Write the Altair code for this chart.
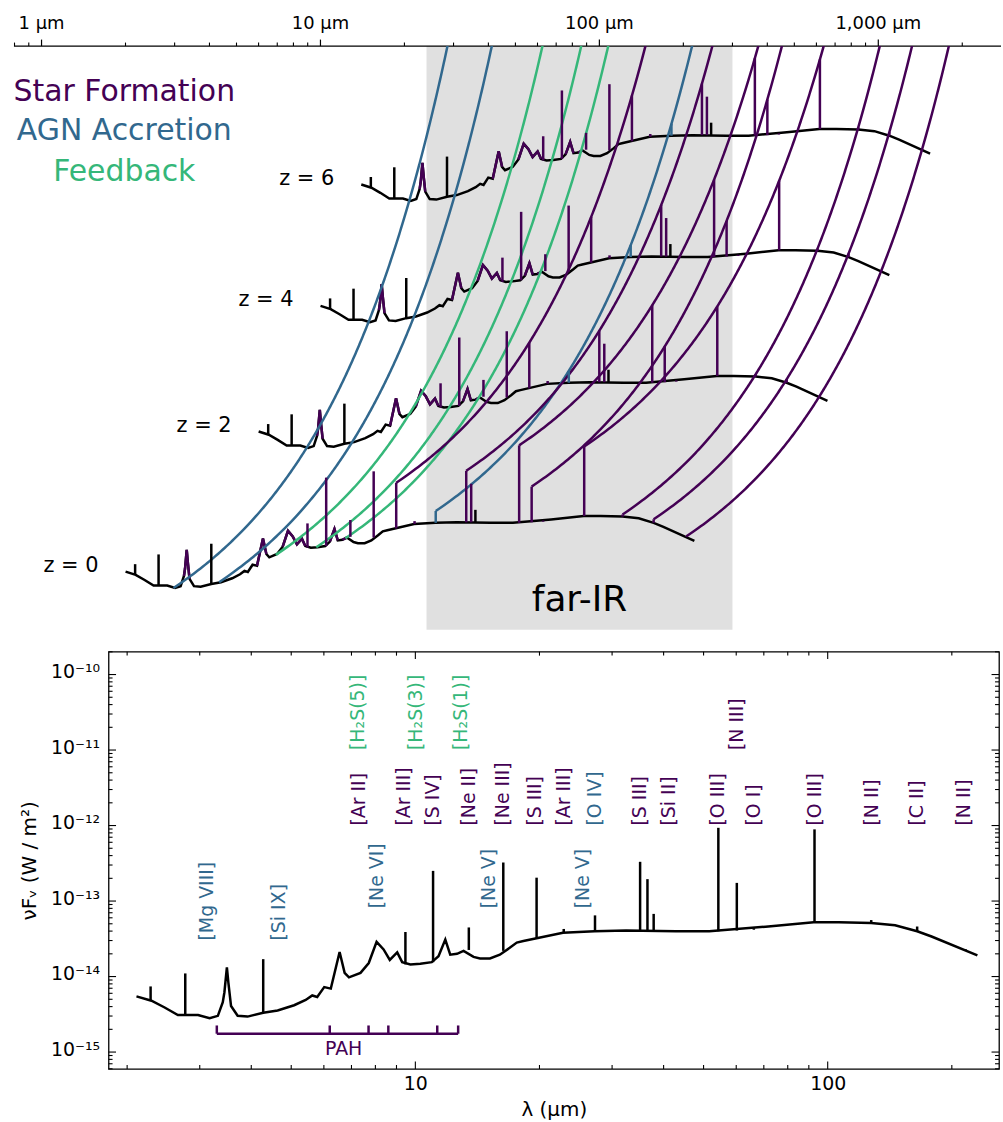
import altair as alt
import numpy as np
import pandas as pd

FONT = "DejaVu Sans"
C_SF, C_AGN, C_FB = "#440154", "#31688e", "#35b779"
GROUP_DOMAIN = ["none", "sf", "agn", "fb"]
GROUP_RANGE = ["black", C_SF, C_AGN, C_FB]

# ---------------- data ----------------
# Template SED as drawn in the lower panel (template's own observed wavelengths, um ; W/m^2)
sed_wave = [2.107, 2.291, 2.466, 2.655, 2.972, 3.170, 3.319, 3.412, 3.443, 3.491, 3.52, 3.573,
            3.707, 3.917, 4.276, 4.634, 5.082, 5.420, 5.623, 5.781, 6.012, 6.237, 6.551, 6.737,
            6.902, 7.362, 7.709, 8.054, 8.375, 8.670, 9.036, 9.290, 9.727, 10.28, 10.96, 11.38,
            11.82, 12.15, 12.62, 13.09, 13.84, 14.35, 15.17, 16.03, 16.94, 17.62, 18.28, 22.80,
            27.2, 32.43, 42.85, 51.6, 70.7, 92.5, 106.4, 127.5, 145.7, 164.8, 178.6, 230.7]
sed_flux = [5.46e-15, 4.79e-15, 3.89e-15, 3.09e-15, 3.09e-15, 2.80e-15, 3.02e-15, 4.57e-15, 6.2e-15,
            1.32e-14, 8.3e-15, 4.07e-15, 3.02e-15, 2.95e-15, 3.31e-15, 3.55e-15, 4.17e-15, 4.90e-15,
            5.62e-15, 5.37e-15, 7.24e-15, 6.92e-15, 2.11e-14, 1.12e-14, 9.77e-15, 1.12e-14, 1.51e-14,
            2.88e-14, 2.29e-14, 1.66e-14, 2.09e-14, 1.55e-14, 1.45e-14, 1.48e-14, 1.55e-14, 1.86e-14,
            3.09e-14, 1.95e-14, 2.00e-14, 2.19e-14, 1.82e-14, 1.74e-14, 1.74e-14, 1.95e-14, 2.40e-14,
            2.82e-14, 2.95e-14, 3.80e-14, 3.98e-14, 4.07e-14, 3.98e-14, 3.98e-14, 4.57e-14, 5.25e-14,
            5.25e-14, 5.13e-14, 4.79e-14, 3.98e-14, 3.39e-14, 1.91e-14]

# Emission lines of the template (observed wavelength, continuum under line, peak)
line_wave = [2.28, 2.767, 3.13, 4.276, 4.56, 7.28, 9.46, 10.17, 11.04, 12.93, 13.48, 16.34, 19.68,
             22.9, 27.27, 35.08, 36.55, 37.84, 54.3, 60.2, 66.2, 92.9, 127.5, 164.8, 216.0]
line_base = [4.79e-15, 3.09e-15, 2.80e-15, 3.31e-15, 3.55e-15, 1.08e-14, 1.45e-14, 1.47e-14, 1.55e-14,
             2.12e-14, 2.25e-14, 2.19e-14, 3.16e-14, 3.80e-14, 3.98e-14, 4.07e-14, 4.07e-14, 4.07e-14,
             3.98e-14, 4.07e-14, 4.17e-14, 5.25e-14, 5.13e-14, 3.98e-14, 2.24e-14]
line_peak = [7.4e-15, 1.10e-14, 2.80e-15, 1.70e-14, 3.55e-15, 1.08e-14, 3.89e-14, 1.47e-14, 2.51e-13,
             2.12e-14, 4.47e-14, 3.24e-13, 2.04e-13, 4.27e-14, 6.46e-14, 3.31e-13, 1.95e-13, 6.76e-14,
             9.33e-13, 1.74e-13, 4.37e-14, 8.9e-13, 5.6e-14, 4.6e-14, 2.3e-14]
line_group = ["none", "none", "agn", "none", "agn", "fb", "sf", "fb", "sf", "fb", "sf", "sf", "sf",
              "sf", "agn", "sf", "sf", "none", "sf", "sf", "sf", "sf", "sf", "sf", "sf"]
line_track = [0, 0, 1, 0, 1, 1, 0, 1, 0, 1, 0, 0, 1, 0, 1, 1, 0, 0, 1, 1, 0, 1, 1, 1, 1]

# Line labels of the lower panel (rest wavelength, flux where the label starts)
label_text = ["[Mg VIII]", "[Si IX]", "[Ne VI]", "[Ne V]", "[Ne V]", "[O IV]",
              "[H\u2082S(5)]", "[H\u2082S(3)]", "[H\u2082S(1)]",
              "[Ar II]", "[Ar III]", "[S IV]", "[Ne II]", "[Ne III]", "[S III]", "[Ar III]",
              "[S III]", "[Si II]", "[O III]", "[N III]", "[O I]", "[O III]", "[N II]", "[C II]", "[N II]"]
label_wave = [2.975, 4.44, 7.66, 14.36, 24.3, 25.9,
              6.91, 9.56, 12.28,
              6.96, 8.95, 10.5, 12.85, 15.5, 18.6, 21.8,
              33.4, 39.2, 51.5, 57.4, 63.0, 88.5, 121.6, 156.7, 204.0]
label_flux = [3e-14, 3e-14, 8e-14, 8e-14, 8e-14, 1e-12,
              1e-11, 1e-11, 1e-11,
              1e-12, 1e-12, 1e-12, 1e-12, 1e-12, 1e-12, 1e-12,
              1e-12, 1e-12, 1e-12, 1e-11, 1e-12, 1e-12, 1e-12, 1e-12, 1e-12]
label_group = ["agn"] * 6 + ["fb"] * 3 + ["sf"] * 16

PAH_TICKS = [3.3, 6.2, 7.7, 8.6, 11.3, 12.7]
PAH_WINDOWS = [(3.22, 3.40), (5.9, 6.45), (7.3, 8.85), (10.8, 11.6), (11.9, 12.5)]
PAH_BAR_FLUX, PAH_TICK_FLUX, PAH_TEXT_FLUX, PAH_TEXT_WAVE = 1.75e-15, 2.25e-15, 1.1e-15, 6.7

REDSHIFTS = [0, 2, 4, 6]
TEMPLATE_Z = 0.053          # the template in the lower panel sits at its own small redshift
FIR_RANGE = (24, 300)
TOP_TICKS = [1, 10, 100, 1000]
TOP_TICK_LABELS = ["1 \u03bcm", "10 \u03bcm", "100 \u03bcm", "1,000 \u03bcm"]
TOP_AXIS_RANGE = (0.7963, 2754)   # extent of the upper wavelength axis line
LEGEND_TEXT = ["Star Formation", "AGN Accretion", "Feedback"]
LEGEND_COLOR = [C_SF, C_AGN, C_FB]
LEGEND_WAVE = 1.98
LEGEND_V = [-5.78, -6.48, -7.19]
FIR_TEXT_V = -14.76

# ---------------- derived tables ----------------
def zshift(z):
    return z + np.log10(1 + z)

TOP_V = (-15.29, -4.97)
rest_factor = 1 + TEMPLATE_Z
sed_rows, pah_rows, spike_rows, zlab_rows = [], [], [], []
for z in REDSHIFTS:
    for i, (w, f) in enumerate(zip(sed_wave, sed_flux)):
        rest = w / rest_factor
        lam, v = rest * (1 + z), np.log10(f) + zshift(z)
        sed_rows.append({"z": z, "i": i, "lam": lam, "v": v})
        for k, (lo, hi) in enumerate(PAH_WINDOWS):
            if lo <= rest <= hi:
                pah_rows.append({"seg": f"{z}_{k}", "i": i, "lam": lam, "v": v})
    for j, (w, b, p, g) in enumerate(zip(line_wave, line_base, line_peak, line_group)):
        if p > b:
            spike_rows.append({"lam": w / rest_factor * (1 + z), "v0": np.log10(b) + zshift(z),
                               "v1": np.log10(p) + zshift(z), "group": g})
    zlab_rows.append({"lam": sed_wave[0] / rest_factor * (1 + z) / 1.25,
                      "v": np.log10(sed_flux[0]) + zshift(z) + 0.1, "text": f"z = {z}"})

zgrid = np.linspace(0, 10, 401)
track_rows = []
for j, (w, p, g, t) in enumerate(zip(line_wave, line_peak, line_group, line_track)):
    if t:
        for k, z in enumerate(zgrid):
            v = np.log10(p) + zshift(z)
            track_rows.append({"line": j, "k": k, "lam": w / rest_factor * (1 + z), "v": v, "group": g})
            if v > TOP_V[1]:
                break

sed_top = pd.DataFrame(sed_rows)
pah_top = pd.DataFrame(pah_rows)
spk_top = pd.DataFrame(spike_rows)
trk_top = pd.DataFrame(track_rows)
zlab_top = pd.DataFrame(zlab_rows)

color_scale = alt.Scale(domain=GROUP_DOMAIN, range=GROUP_RANGE)
gcolor = alt.Color("group:N", scale=color_scale, legend=None)

# ---------------- upper panel ----------------
W1, H1 = 896, 586
xs1 = alt.Scale(type="log", domain=[1.739, 2754], nice=False)
ys1 = alt.Scale(domain=list(TOP_V), nice=False, zero=False)
X1 = lambda f: alt.X(f, scale=xs1, axis=None)
Y1 = lambda f: alt.Y(f, scale=ys1, axis=None)

fir = alt.Chart(pd.DataFrame({"lo": [FIR_RANGE[0]], "hi": [FIR_RANGE[1]]})).mark_rect(
    color="#e0e0e0").encode(x=X1("lo:Q"), x2="hi:Q", y=alt.value(0), y2=alt.value(H1))

axis_line = alt.Chart(pd.DataFrame({"a": [TOP_AXIS_RANGE[0]], "b": [TOP_AXIS_RANGE[1]]})).mark_rule(
    color="black", strokeWidth=1.2).encode(x=X1("a:Q"), x2="b:Q", y=alt.value(0))
minor1 = [k * 10.0 ** d for d in range(-1, 4) for k in range(2, 10)
          if TOP_AXIS_RANGE[0] <= k * 10.0 ** d <= TOP_AXIS_RANGE[1]]
tmin = alt.Chart(pd.DataFrame({"t": minor1})).mark_rule(color="black", strokeWidth=1.1).encode(
    x=X1("t:Q"), y=alt.value(0), y2=alt.value(-3.5))
tmaj = alt.Chart(pd.DataFrame({"t": TOP_TICKS})).mark_rule(color="black", strokeWidth=1.2).encode(
    x=X1("t:Q"), y=alt.value(0), y2=alt.value(-6.5))
tlab = alt.Chart(pd.DataFrame({"t": TOP_TICKS, "text": TOP_TICK_LABELS})).mark_text(
    baseline="bottom", align="center", font=FONT, fontSize=18, color="black").encode(
    x=X1("t:Q"), y=alt.value(-13), text="text:N")

sed_l = alt.Chart(sed_top).mark_line(color="black", strokeWidth=2.5).encode(
    x=X1("lam:Q"), y=Y1("v:Q"), detail="z:N", order="i:Q")
pah_l = alt.Chart(pah_top).mark_line(color=C_SF, strokeWidth=2.5).encode(
    x=X1("lam:Q"), y=Y1("v:Q"), detail="seg:N", order="i:Q")
trk_l = alt.Chart(trk_top).mark_line(strokeWidth=2.5, clip=True).encode(
    x=X1("lam:Q"), y=Y1("v:Q"), detail="line:N", order="k:Q", color=gcolor)
spk_l = alt.Chart(spk_top).mark_rule(strokeWidth=2.5).encode(
    x=X1("lam:Q"), y=Y1("v0:Q"), y2="v1:Q", color=gcolor)
zlab = alt.Chart(zlab_top).mark_text(align="right", baseline="middle", font=FONT, fontSize=21,
                                     color="black").encode(x=X1("lam:Q"), y=Y1("v:Q"), text="text:N")
leg = alt.Chart(pd.DataFrame({"lam": [LEGEND_WAVE] * 3, "v": LEGEND_V, "text": LEGEND_TEXT,
                              "c": LEGEND_COLOR})).mark_text(
    align="center", baseline="middle", font=FONT, fontSize=30).encode(
    x=X1("lam:Q"), y=Y1("v:Q"), text="text:N", color=alt.Color("c:N", scale=None))
firtxt = alt.Chart(pd.DataFrame({"lam": [np.sqrt(FIR_RANGE[0] * FIR_RANGE[1])], "v": [FIR_TEXT_V],
                                 "text": ["far-IR"]})).mark_text(
    align="center", baseline="middle", font=FONT, fontSize=36, color="black").encode(
    x=X1("lam:Q"), y=Y1("v:Q"), text="text:N")

top = alt.layer(fir, axis_line, tmin, tmaj, tlab, sed_l, pah_l, trk_l, spk_l, zlab, leg, firtxt).properties(
    width=W1, height=H1)

# ---------------- lower panel ----------------
W2, H2 = 894, 419
xs2 = alt.Scale(type="log", domain=[1.803, 260.3], nice=False)
ys2 = alt.Scale(type="log", domain=[5.97e-16, 2.01e-10], nice=False)

sup = str.maketrans("-0123456789", "\u207b\u2070\u00b9\u00b2\u00b3\u2074\u2075\u2076\u2077\u2078\u2079")
yexp = "round(log(datum.value)/LN10)"
ylabel_expr = " : ".join(f"{yexp} == {n} ? '10{str(n).translate(sup)}'" for n in range(-15, -9)) + " : ''"

xaxis2 = alt.Axis(values=[10, 100], format="d", ticks=False, domain=False, grid=False,
                  labelFont=FONT, labelFontSize=19, labelColor="black", labelPadding=6,
                  title="\u03bb (\u03bcm)", titleFont=FONT, titleFontSize=20,
                  titleFontWeight="normal", titleColor="black", titlePadding=6)
yaxis2 = alt.Axis(values=[10.0 ** n for n in range(-15, -9)], labelExpr=ylabel_expr,
                  ticks=False, domain=False, grid=False, labelFont=FONT, labelFontSize=19,
                  labelColor="black", labelPadding=9, labelOffset=-3, minExtent=65, maxExtent=65,
                  title="\u03bdF\u1d65 (W / m\u00b2)", titleFont=FONT, titleFontSize=20,
                  titleFontWeight="normal", titleColor="black", titlePadding=10, titleX=-69)
X2 = lambda f: alt.X(f, scale=xs2, axis=xaxis2)
Y2 = lambda f: alt.Y(f, scale=ys2, axis=yaxis2)

sed_b = alt.Chart(pd.DataFrame({"lam": sed_wave, "f": sed_flux, "i": range(len(sed_wave))})).mark_line(
    color="black", strokeWidth=2.5).encode(x=X2("lam:Q"), y=Y2("f:Q"), order="i:Q")
spk_b = alt.Chart(pd.DataFrame({"lam": line_wave, "b": line_base, "p": line_peak})).mark_rule(
    color="black", strokeWidth=2.5).encode(x=X2("lam:Q"), y=Y2("b:Q"), y2="p:Q")
lab_b = alt.Chart(pd.DataFrame({"lam": label_wave, "f": label_flux, "text": label_text,
                                "group": label_group})).mark_text(
    angle=270, align="left", baseline="top", font=FONT, fontSize=19).encode(
    x=X2("lam:Q"), y=Y2("f:Q"), text="text:N", color=gcolor)
pah_bar = alt.Chart(pd.DataFrame({"a": [PAH_TICKS[0]], "b": [PAH_TICKS[-1]], "f": [PAH_BAR_FLUX]})).mark_rule(
    color=C_SF, strokeWidth=2.5).encode(x=X2("a:Q"), x2="b:Q", y=Y2("f:Q"))
pah_tk = alt.Chart(pd.DataFrame({"lam": PAH_TICKS, "f0": [PAH_BAR_FLUX] * len(PAH_TICKS),
                                 "f1": [PAH_TICK_FLUX] * len(PAH_TICKS)})).mark_rule(
    color=C_SF, strokeWidth=2.5).encode(x=X2("lam:Q"), y=Y2("f0:Q"), y2="f1:Q")
pah_tx = alt.Chart(pd.DataFrame({"lam": [PAH_TEXT_WAVE], "f": [PAH_TEXT_FLUX], "text": ["PAH"]})).mark_text(
    font=FONT, fontSize=19, color=C_SF, align="center", baseline="middle").encode(
    x=X2("lam:Q"), y=Y2("f:Q"), text="text:N")

xt_major = [10, 100]
xt_minor = [k * 10.0 ** d for d in range(0, 3) for k in range(2, 10) if 1.803 <= k * 10.0 ** d <= 260.3]
yt_major = [10.0 ** n for n in range(-15, -9)]
yt_minor = [k * 10.0 ** n for n in range(-16, -9) for k in range(2, 10) if 5.97e-16 <= k * 10.0 ** n <= 2.01e-10]

tick_layers = []
for vals, L in ((xt_major, 7.5), (xt_minor, 4)):
    d = pd.DataFrame({"t": vals})
    tick_layers.append(alt.Chart(d).mark_rule(color="black", strokeWidth=1.1).encode(
        x=X2("t:Q"), y=alt.value(H2), y2=alt.value(H2 - L)))
    tick_layers.append(alt.Chart(d).mark_rule(color="black", strokeWidth=1.1).encode(
        x=X2("t:Q"), y=alt.value(0), y2=alt.value(L)))
for vals, L in ((yt_major, 7.5), (yt_minor, 4)):
    d = pd.DataFrame({"t": vals})
    tick_layers.append(alt.Chart(d).mark_rule(color="black", strokeWidth=1.1).encode(
        y=Y2("t:Q"), x=alt.value(0), x2=alt.value(L)))
    tick_layers.append(alt.Chart(d).mark_rule(color="black", strokeWidth=1.1).encode(
        y=Y2("t:Q"), x=alt.value(W2), x2=alt.value(W2 - L)))

bottom = alt.layer(sed_b, spk_b, lab_b, pah_bar, pah_tk, pah_tx, *tick_layers).properties(
    width=W2, height=H2, view=alt.ViewBackground(stroke="black", strokeWidth=1.3))

chart = alt.vconcat(top, bottom, spacing=19).properties(
    padding={"left": 12, "top": 12, "right": 0, "bottom": 0}
).configure(font=FONT).configure_view(stroke="transparent")

chart.save("out.html", embed_options={"renderer": "svg", "actions": False})
